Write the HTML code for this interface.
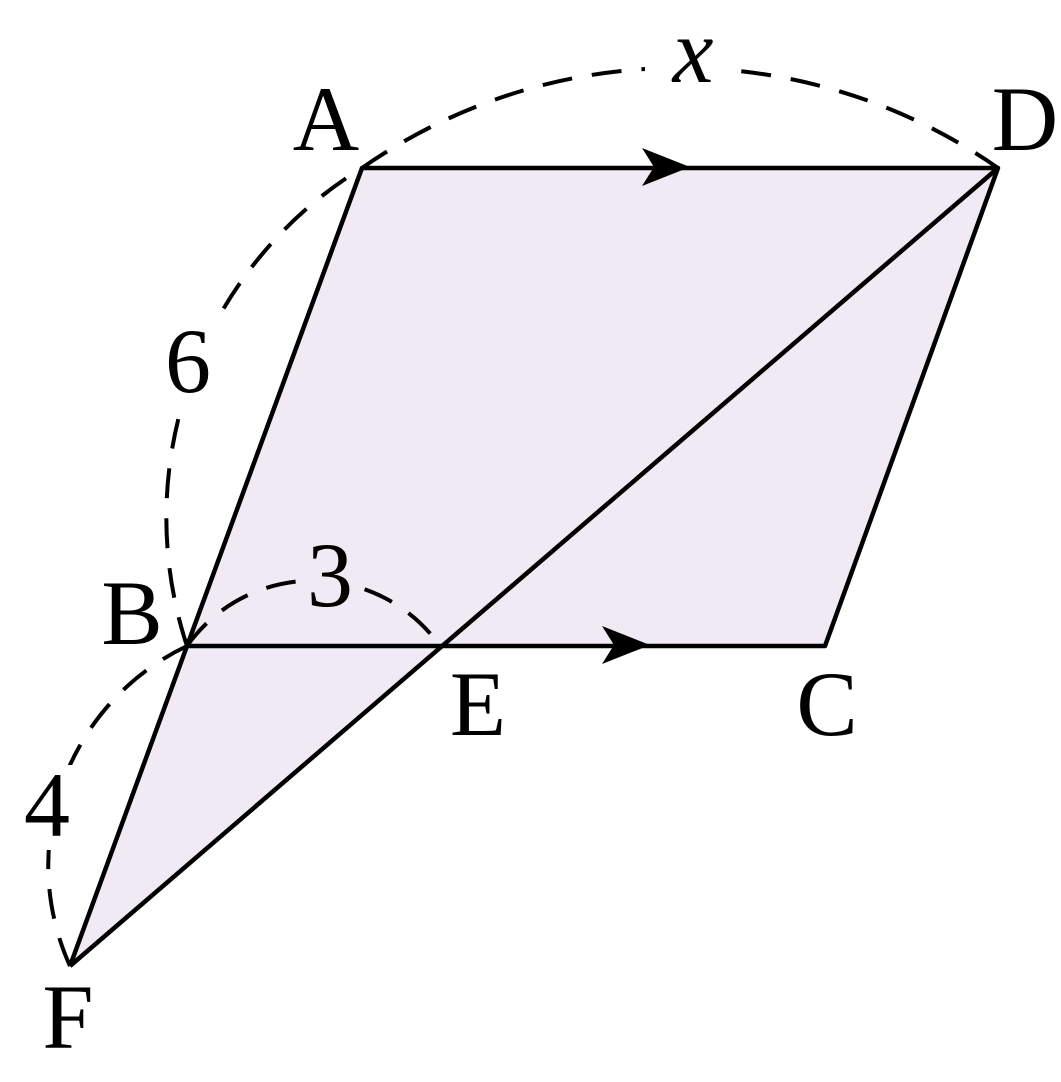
<!DOCTYPE html>
<html><head><meta charset="utf-8"><style>
html,body{margin:0;padding:0;background:#fff;}
svg{display:block;}
text{font-family:"Liberation Serif",serif;font-size:92px;fill:#000;text-anchor:middle;}
</style></head><body>
<svg width="1061" height="1082" viewBox="0 0 1061 1082" xmlns="http://www.w3.org/2000/svg">
<polygon points="362,168 998,168 825,646 187,646" fill="#efeaf3"/>
<polygon points="187,646 440,646 70,966" fill="#efeaf3"/>
<g fill="none" stroke="#000" stroke-width="4" stroke-dasharray="30,20">
<path d="M362,168 A555,555 0 0 1 998,168"/>
<path d="M187,646 A410,410 0 0 1 362,168"/>
<path d="M187,646 A155,155 0 0 1 440,646"/>
<path d="M70,966 A243,243 0 0 1 187,646"/>
</g>
<rect x="645" y="25" width="95" height="70" fill="#fff"/>
<rect x="155" y="320" width="68" height="85" fill="#fff"/>
<rect x="298" y="535" width="66" height="85" fill="#efeaf3"/>
<rect x="15" y="765" width="66" height="85" fill="#fff"/>
<g fill="none" stroke="#000" stroke-width="4.5" stroke-linejoin="round">
<polygon points="362,168 998,168 825,646 187,646"/>
<line x1="998" y1="168" x2="70" y2="966"/>
<line x1="187" y1="646" x2="70" y2="966"/>
</g>
<path d="M690,167 L642,148 L654,167 L642,186 Z" fill="#000"/>
<path d="M650,645 L602,626 L614,645 L602,664 Z" fill="#000"/>
<text x="326" y="150">A</text>
<text x="1025" y="150">D</text>
<text x="132" y="644">B</text>
<text x="478" y="735">E</text>
<text x="827" y="735">C</text>
<text x="68" y="1048">F</text>
<text x="693" y="82" font-style="italic" font-size="80">x</text>
<text x="188" y="392" font-size="82">6</text>
<text x="330" y="606" font-size="82">3</text>
<text x="47" y="836" font-size="82">4</text>
</svg>
</body></html>
